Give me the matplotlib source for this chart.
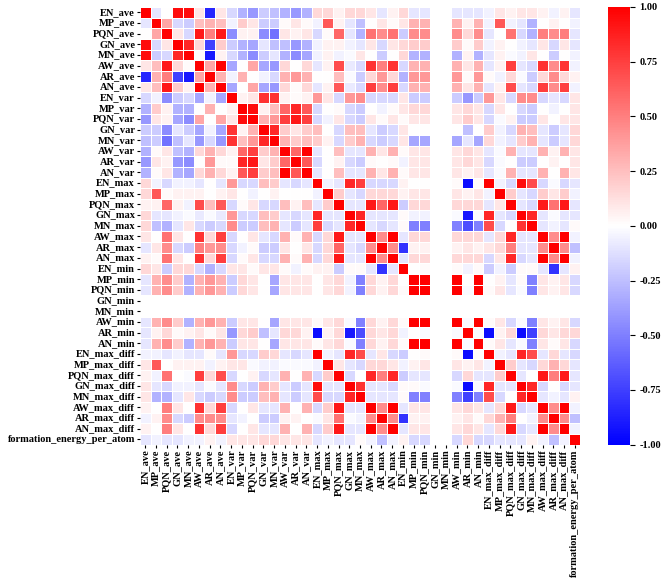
import numpy as np
import matplotlib
matplotlib.use("Agg")
import matplotlib.pyplot as plt
import seaborn as sns
import pandas as pd

labels = ["EN_ave","MP_ave","PQN_ave","GN_ave","MN_ave","AW_ave","AR_ave","AN_ave",
          "EN_var","MP_var","PQN_var","GN_var","MN_var","AW_var","AR_var","AN_var",
          "EN_max","MP_max","PQN_max","GN_max","MN_max","AW_max","AR_max","AN_max",
          "EN_min","MP_min","PQN_min","GN_min","MN_min","AW_min","AR_min","AN_min",
          "EN_max_diff","MP_max_diff","PQN_max_diff","GN_max_diff","MN_max_diff",
          "AW_max_diff","AR_max_diff","AN_max_diff","formation_energy_per_atom"]
N = np.nan
# lower triangle rows (row i has i+1 values)
lower = [
 [1],
 [-0.1,1],
 [0.0,0.35,1],
 [0.95,-0.15,0.1,1],
 [0.95,-0.2,-0.15,0.85,1],
 [0.1,0.25,0.9,0.15,0.02,1],
 [-0.85,0.3,0.5,-0.75,-0.9,0.35,1],
 [0.1,0.25,0.9,0.2,0.05,1.0,0.3,1],
 [-0.15,-0.05,-0.45,-0.2,-0.15,-0.35,-0.05,-0.35,1],
 [-0.3,0.2,0.05,-0.3,-0.3,0.0,0.3,0.0,0.05,1],
 [-0.4,0.1,0.05,-0.35,-0.45,0.35,0.0,0.35,0.1,0.95,1],
 [-0.2,-0.2,-0.45,-0.1,-0.2,-0.35,-0.05,-0.35,0.8,0.05,0.3,1],
 [-0.25,-0.2,-0.55,-0.25,-0.1,-0.4,-0.15,-0.4,0.8,0.25,0.4,0.85,1],
 [-0.3,0.02,0.1,-0.25,-0.3,0.15,0.3,0.15,0.05,0.6,0.75,0.2,0.3,1],
 [-0.4,0.1,0.05,-0.4,-0.45,0.0,0.4,0.02,0.02,0.85,0.9,0.1,0.2,0.6,1],
 [-0.3,0.02,0.1,-0.3,-0.35,0.15,0.3,0.15,0.05,0.65,0.75,0.2,0.25,1.0,0.65,1],
 [0.15,-0.05,-0.15,-0.05,-0.05,-0.1,0.0,-0.1,0.4,-0.15,-0.15,0.25,0.2,-0.1,-0.15,-0.1,1],
 [0.15,0.65,0.02,0.05,0.05,0.05,0.0,0.05,0.1,0.0,-0.05,0.0,0.05,0.0,0.0,0.0,-0.05,1],
 [0.05,0.05,0.6,0.05,-0.05,0.7,0.25,0.65,-0.15,0.02,0.1,-0.15,-0.15,0.25,0.05,0.25,-0.1,0.2,1],
 [0.15,-0.1,-0.1,-0.05,-0.02,-0.08,-0.02,-0.08,0.4,-0.15,-0.15,0.25,0.2,-0.1,-0.15,-0.1,0.85,-0.1,-0.1,1],
 [0.15,-0.25,-0.3,-0.1,0.1,-0.15,-0.2,-0.15,0.45,-0.2,-0.2,0.25,0.3,-0.1,-0.2,-0.1,0.75,-0.15,-0.1,0.85,1],
 [0.1,0.0,0.55,0.1,0.0,0.8,0.15,0.75,-0.15,0.0,0.1,-0.1,-0.15,0.3,0.02,0.3,-0.15,0.15,0.9,-0.1,-0.1,1],
 [-0.1,0.1,0.45,-0.15,-0.2,0.5,0.4,0.45,-0.15,-0.05,0.02,-0.2,-0.2,0.1,0.0,0.1,-0.15,0.15,0.6,-0.1,-0.15,0.45,1],
 [0.05,0.02,0.55,0.1,0.0,0.8,0.15,0.75,-0.15,0.02,0.1,-0.15,-0.15,0.3,0.02,0.3,-0.15,0.15,0.9,-0.1,-0.1,1.0,0.45,1],
 [0.15,0.1,-0.2,0.15,0.15,-0.15,-0.3,-0.15,0.1,0.1,0.02,0.1,0.1,0.02,-0.05,0.02,0.05,0.05,-0.2,0.02,0.02,-0.1,-0.8,-0.1,1],
 [-0.1,0.3,0.45,0.2,-0.3,0.3,0.4,0.3,-0.2,0.15,0.1,0.0,-0.35,0.1,0.1,0.1,0.0,0.1,0.15,-0.05,-0.5,0.15,0.05,0.15,0.0,1],
 [-0.1,0.3,0.45,0.2,-0.3,0.3,0.4,0.3,-0.2,0.15,0.1,0.0,-0.35,0.1,0.1,0.1,0.0,0.1,0.15,-0.05,-0.5,0.15,0.05,0.15,0.02,1.0,1],
 [N]*28,
 [N]*29,
 [-0.1,0.3,0.45,0.2,-0.3,0.3,0.4,0.3,-0.2,0.1,0.1,0.0,-0.35,0.1,0.1,0.1,0.02,0.1,0.15,-0.02,-0.5,0.15,0.05,0.15,0.02,1.0,1.0,N,N,1],
 [-0.1,0.05,0.15,0.02,0.05,0.1,0.02,0.1,-0.4,0.15,0.2,-0.25,-0.1,0.15,0.15,0.05,-0.95,0.05,0.15,-0.9,-0.7,0.15,0.1,0.15,-0.05,0.0,-0.02,N,N,-0.02,1],
 [-0.1,0.3,0.45,0.2,-0.3,0.3,0.4,0.3,-0.2,0.1,0.1,0.0,-0.35,0.1,0.1,0.1,0.02,0.1,0.15,-0.02,-0.5,0.15,0.05,0.15,0.02,1.0,1.0,N,N,1.0,-0.02,1],
 [-0.05,-0.05,-0.1,-0.05,-0.1,-0.1,0.02,-0.1,0.4,-0.15,-0.15,0.2,0.15,-0.1,-0.15,-0.1,1.0,-0.05,-0.1,0.85,0.7,-0.1,0.1,-0.15,-0.2,0.0,0.02,N,N,0.02,-0.95,0.02,1],
 [0.1,0.65,0.0,0.05,0.05,0.05,-0.05,0.05,0.1,0.1,-0.02,-0.05,-0.05,-0.02,-0.02,-0.02,-0.05,1.0,0.1,-0.1,-0.15,0.15,0.15,0.1,-0.05,0.05,0.1,N,N,0.1,0.05,0.1,-0.05,1],
 [0.05,-0.05,0.55,0.0,-0.02,0.75,0.15,0.7,-0.15,0.0,0.05,-0.15,-0.1,0.3,0.0,0.3,-0.15,0.2,1.0,-0.15,0.0,0.85,0.5,0.85,-0.2,-0.1,-0.1,N,N,-0.15,0.15,-0.1,-0.1,0.2,1],
 [0.1,-0.1,-0.15,-0.05,-0.05,-0.1,-0.02,-0.1,0.45,-0.15,-0.2,0.3,0.2,-0.1,-0.2,-0.1,0.95,-0.1,-0.1,1.0,0.8,-0.1,-0.1,-0.15,0.02,0.02,-0.02,N,N,-0.02,-0.95,-0.02,0.85,-0.1,-0.1,1],
 [0.1,-0.3,-0.3,-0.1,0.1,-0.15,-0.2,-0.15,0.45,-0.2,-0.2,0.25,0.3,-0.1,-0.2,-0.1,0.7,-0.15,-0.15,0.85,1.0,-0.1,-0.1,-0.1,0.02,-0.5,-0.5,N,N,-0.5,-0.75,-0.5,0.7,-0.15,0.0,0.85,1],
 [0.05,0.0,0.5,0.1,0.0,0.8,0.15,0.75,-0.15,0.0,0.1,-0.1,-0.1,0.3,0.0,0.3,-0.15,0.2,0.9,-0.1,-0.1,1.0,0.45,1.0,-0.1,0.1,0.1,N,N,0.1,0.15,0.1,-0.1,0.15,0.9,-0.15,-0.1,1],
 [-0.05,0.05,0.45,-0.15,-0.2,0.45,0.45,0.45,-0.1,-0.05,0.0,-0.2,-0.2,0.05,0.05,0.0,-0.02,0.1,0.55,-0.02,-0.05,0.45,1.0,0.45,-0.8,0.05,0.05,N,N,0.05,0.1,0.02,0.15,0.3,0.5,0.0,-0.05,0.45,1],
 [0.05,0.0,0.5,0.1,0.0,0.8,0.15,0.75,-0.15,0.0,0.1,-0.1,-0.1,0.3,0.0,0.3,-0.15,0.2,0.9,-0.1,-0.1,1.0,0.45,1.0,-0.1,0.1,0.1,N,N,0.1,0.15,0.1,-0.1,0.15,0.9,-0.15,-0.1,1.0,0.45,1],
 [-0.1,-0.05,-0.1,-0.1,-0.05,-0.05,0.05,-0.05,0.1,0.1,0.1,0.15,0.15,0.1,0.1,0.1,-0.1,-0.05,-0.1,-0.1,0.02,-0.05,-0.25,-0.05,0.05,-0.15,-0.15,N,N,-0.15,0.15,-0.15,-0.15,-0.1,-0.1,-0.1,0.05,-0.05,-0.25,-0.05,1],
]

n = len(labels)
M = np.full((n, n), np.nan)
for i, row in enumerate(lower):
    for j, v in enumerate(row):
        M[i, j] = v
        M[j, i] = v
M[27, :] = np.nan; M[:, 27] = np.nan
M[28, :] = np.nan; M[:, 28] = np.nan
df = pd.DataFrame(M, index=labels, columns=labels)

plt.rcParams['font.family'] = ['Liberation Serif', 'DejaVu Serif']
fig = plt.figure(figsize=(6.63, 5.79), dpi=100)
ax = fig.add_axes([0.211, 0.232, 0.664, 0.756])
cax = fig.add_axes([0.917, 0.232, 0.033, 0.756])
sns.heatmap(df, ax=ax, cbar_ax=cax, cmap='bwr', vmin=-1, vmax=1,
            linewidths=0.5, linecolor='white', xticklabels=True, yticklabels=True)
ax.tick_params(axis='both', labelsize=7.5, length=2, pad=1.5)
ax.set_xticklabels(ax.get_xticklabels(), rotation=90, fontweight='bold')
ax.set_yticklabels(ax.get_yticklabels(), rotation=0, fontweight='bold')
cax.tick_params(labelsize=7.5)
cax.set_yticks([-1, -0.75, -0.5, -0.25, 0, 0.25, 0.5, 0.75, 1])
cax.set_yticklabels(["-1.00", "-0.75", "-0.50", "-0.25", "0.00", "0.25", "0.50", "0.75", "1.00"], fontweight='bold')
fig.savefig("out.png", dpi=100)
